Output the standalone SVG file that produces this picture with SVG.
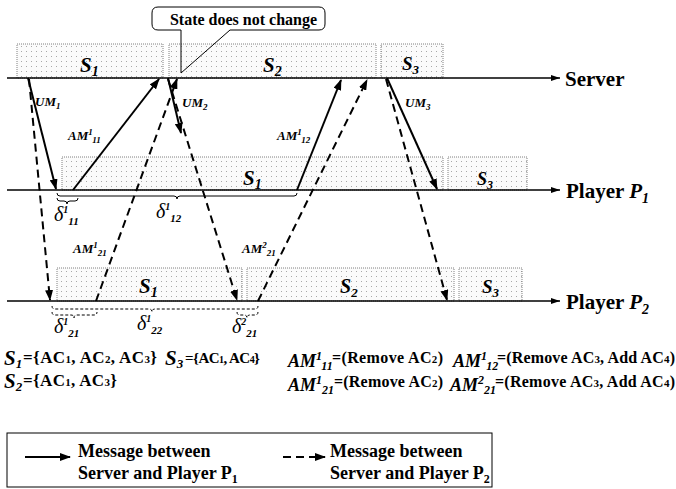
<svg xmlns="http://www.w3.org/2000/svg" width="676" height="489" viewBox="0 0 676 489">
<style>
.f{font-family:"Liberation Serif","Times New Roman",serif;font-weight:bold;fill:#000}
.it{font-style:italic}
.d{font-family:"Liberation Serif","Times New Roman",serif;font-style:italic;fill:#000}
.box{fill:url(#dots);stroke:#808080;stroke-width:1;stroke-dasharray:1 1}
.axis{stroke:#000;stroke-width:1.5;fill:none}
.sol{stroke:#000;stroke-width:2;fill:none}
.dsh{stroke:#000;stroke-width:2;fill:none;stroke-dasharray:8 5}
.br{stroke:#000;stroke-width:1;fill:none}
.brd{stroke:#000;stroke-width:1;fill:none;stroke-dasharray:3 2}
</style>
<defs>
<pattern id="dots" width="5" height="5" patternUnits="userSpaceOnUse">
<rect width="5" height="5" fill="#fbfbfb"/>
<rect x="1" y="1" width="1" height="1" fill="#a8a8a8"/>
</pattern>
<marker id="ah" viewBox="0 0 11 8" refX="10" refY="4" markerWidth="11" markerHeight="8" markerUnits="userSpaceOnUse" orient="auto">
<path d="M0,0 L11,4 L0,8 z" fill="#000"/>
</marker>
<marker id="ax" viewBox="0 0 9 6" refX="9" refY="3" markerWidth="9" markerHeight="6" markerUnits="userSpaceOnUse" orient="auto">
<path d="M0,0 L9,3 L0,6 z" fill="#000"/>
</marker>
</defs>

<g id="server">
<rect class="box" x="17" y="44" width="146" height="34"/>
<rect class="box" x="169" y="44" width="207" height="34"/>
<rect class="box" x="381" y="44" width="62" height="34"/>
<text class="f it" x="80" y="72" font-size="21">S<tspan font-size="14" dy="4">1</tspan></text>
<text class="f it" x="263" y="72" font-size="21">S<tspan font-size="14" dy="4">2</tspan></text>
<text class="f it" x="402" y="70" font-size="19">S<tspan font-size="13" dy="4">3</tspan></text>
<line class="axis" x1="7" y1="78" x2="560" y2="78" marker-end="url(#ax)"/>
<text class="f" x="565" y="86" font-size="21">Server</text>
</g>

<g id="player1">
<rect class="box" x="62" y="157" width="381" height="33"/>
<rect class="box" x="448" y="157" width="79" height="33"/>
<text class="f it" x="243" y="185" font-size="21">S<tspan font-size="14" dy="4">1</tspan></text>
<text class="f it" x="477" y="185" font-size="18">S<tspan font-size="12" dy="4">3</tspan></text>
<line class="axis" x1="7" y1="190" x2="560" y2="190" marker-end="url(#ax)"/>
<text class="f" x="566" y="198" font-size="21">Player <tspan class="it">P</tspan><tspan class="it" font-size="14" dy="5">1</tspan></text>
</g>

<g id="player2">
<rect class="box" x="57" y="268" width="185" height="33"/>
<rect class="box" x="247" y="268" width="207" height="33"/>
<rect class="box" x="459" y="268" width="63" height="33"/>
<text class="f it" x="139" y="293" font-size="21">S<tspan font-size="14" dy="4">1</tspan></text>
<text class="f it" x="340" y="293" font-size="20">S<tspan font-size="13" dy="4">2</tspan></text>
<text class="f it" x="482" y="293" font-size="19">S<tspan font-size="13" dy="4">3</tspan></text>
<line class="axis" x1="7" y1="301" x2="560" y2="301" marker-end="url(#ax)"/>
<text class="f" x="566" y="309" font-size="21">Player <tspan class="it">P</tspan><tspan class="it" font-size="14" dy="5">2</tspan></text>
</g>

<g id="callout">
<path d="M181,30 H158 Q152,30 152,24 V13 Q152,7 158,7 H319 Q325,7 325,13 V24 Q325,30 319,30 H230 Z" fill="#fff" stroke="none"/>
<path d="M181,73 V30 H158 Q152,30 152,24 V13 Q152,7 158,7 H319 Q325,7 325,13 V24 Q325,30 319,30 H230 L181,73" fill="none" stroke="#000" stroke-width="1"/>
<text class="f" x="243.5" y="25" font-size="16" text-anchor="middle">State does not change</text>
</g>

<g id="connectors">
<line class="sol" x1="28" y1="78" x2="56" y2="189" marker-end="url(#ah)"/>
<line class="dsh" x1="29" y1="79" x2="50" y2="300" marker-end="url(#ah)"/>
<line class="sol" x1="73" y1="190" x2="159" y2="79" marker-end="url(#ah)"/>
<line class="dsh" x1="96" y1="301" x2="177" y2="79" marker-end="url(#ah)"/>
<line class="sol" x1="168" y1="78" x2="181" y2="133" marker-end="url(#ah)"/>
<line class="dsh" x1="168" y1="79" x2="237" y2="300" marker-end="url(#ah)"/>
<line class="sol" x1="297" y1="190" x2="341" y2="80" marker-end="url(#ah)"/>
<line class="dsh" x1="258" y1="301" x2="367" y2="80" marker-end="url(#ah)"/>
<line class="sol" x1="387" y1="78" x2="437" y2="189" marker-end="url(#ah)"/>
<line class="dsh" x1="386" y1="79" x2="447" y2="300" marker-end="url(#ah)"/>
</g>

<g id="message-labels">
<text class="f it" x="35" y="106" font-size="13">UM<tspan font-size="9" dy="3">1</tspan></text>
<text class="f it" x="182" y="107" font-size="13">UM<tspan font-size="9" dy="3">2</tspan></text>
<text class="f it" x="405" y="107" font-size="13">UM<tspan font-size="9" dy="3">3</tspan></text>
<text class="f it" x="68" y="140" font-size="13">AM<tspan font-size="9" dy="-5">1</tspan><tspan font-size="9" dy="8">11</tspan></text>
<text class="f it" x="277" y="140" font-size="13">AM<tspan font-size="9" dy="-5">1</tspan><tspan font-size="9" dy="8">12</tspan></text>
<text class="f it" x="73" y="253" font-size="13">AM<tspan font-size="9" dy="-5">1</tspan><tspan font-size="9" dy="8">21</tspan></text>
<text class="f it" x="242" y="253" font-size="13">AM<tspan font-size="9" dy="-5">2</tspan><tspan font-size="9" dy="8">21</tspan></text>
</g>

<g id="delays">
<path class="br" d="M57,193 Q57,196 60,196 L174,196 Q177,196 177,199 Q177,196 180,196 L294,196 Q297,196 297,193"/>
<path class="br" d="M57,198 Q57,201 60,201 L64,201 Q67,201 67,204 Q67,201 70,201 L75,201 Q78,201 78,198"/>
<text class="d" x="54" y="221" font-size="20">δ<tspan class="f it" font-size="10" dy="-8">1</tspan><tspan class="f it" font-size="11" dy="12">11</tspan></text>
<text class="d" x="156" y="218" font-size="20">δ<tspan class="f it" font-size="10" dy="-8">1</tspan><tspan class="f it" font-size="11" dy="12">12</tspan></text>
<path class="brd" d="M52,306 Q52,309 55,309 L149,309 Q152,309 152,312 Q152,309 155,309 L255,309 Q258,309 258,306"/>
<path class="brd" d="M52,312 Q52,315 55,315 L71,315 Q74,315 74,318 Q74,315 77,315 L94,315 Q97,315 97,312"/>
<path class="brd" d="M237,312 Q237,315 240,315 L244,315 Q247,315 247,318 Q247,315 250,315 L255,315 Q258,315 258,312"/>
<text class="d" x="54" y="333" font-size="20">δ<tspan class="f it" font-size="10" dy="-8">1</tspan><tspan class="f it" font-size="11" dy="12">21</tspan></text>
<text class="d" x="137" y="330" font-size="20">δ<tspan class="f it" font-size="10" dy="-8">1</tspan><tspan class="f it" font-size="11" dy="12">22</tspan></text>
<text class="d" x="232" y="333" font-size="20">δ<tspan class="f it" font-size="10" dy="-8">2</tspan><tspan class="f it" font-size="11" dy="12">21</tspan></text>
</g>

<g id="definitions">
<text class="f it" x="4" y="365" font-size="21">S<tspan font-size="13" dy="3">1</tspan></text>
<text class="f" x="23" y="363" font-size="17" textLength="134" lengthAdjust="spacing">={AC<tspan font-size="11">1</tspan>, AC<tspan font-size="11">2</tspan>, AC<tspan font-size="11">3</tspan>}</text>
<text class="f it" x="165" y="365" font-size="21">S<tspan font-size="13" dy="3">3</tspan></text>
<text class="f" x="185" y="363" font-size="15" textLength="75" lengthAdjust="spacing">={AC<tspan font-size="10">1</tspan>, AC<tspan font-size="10">4</tspan>}</text>
<text class="f it" x="4" y="388" font-size="21">S<tspan font-size="13" dy="3">2</tspan></text>
<text class="f" x="23" y="386" font-size="17" textLength="94" lengthAdjust="spacing">={AC<tspan font-size="11">1</tspan>, AC<tspan font-size="11">3</tspan>}</text>

<text class="f it" x="288" y="367" font-size="18">AM<tspan font-size="12" dy="-7">1</tspan><tspan font-size="12" dy="10">11</tspan></text>
<text class="f" x="332" y="363" font-size="16" textLength="111" lengthAdjust="spacing">=(Remove AC<tspan font-size="11">2</tspan>)</text>
<text class="f it" x="453" y="367" font-size="18">AM<tspan font-size="12" dy="-7">1</tspan><tspan font-size="12" dy="10">12</tspan></text>
<text class="f" x="497" y="363" font-size="16" textLength="178" lengthAdjust="spacing">=(Remove AC<tspan font-size="11">3</tspan>, Add AC<tspan font-size="11">4</tspan>)</text>

<text class="f it" x="288" y="391" font-size="18">AM<tspan font-size="12" dy="-7">1</tspan><tspan font-size="12" dy="10">21</tspan></text>
<text class="f" x="334" y="387" font-size="16" textLength="109" lengthAdjust="spacing">=(Remove AC<tspan font-size="11">2</tspan>)</text>
<text class="f it" x="450" y="391" font-size="18">AM<tspan font-size="12" dy="-7">2</tspan><tspan font-size="12" dy="10">21</tspan></text>
<text class="f" x="495" y="387" font-size="16" textLength="180" lengthAdjust="spacing">=(Remove AC<tspan font-size="11">3</tspan>, Add AC<tspan font-size="11">4</tspan>)</text>
</g>

<g id="legend">
<rect x="7" y="433" width="485" height="54" fill="none" stroke="#000" stroke-width="1"/>
<line class="sol" x1="25" y1="457" x2="70" y2="457" marker-end="url(#ah)"/>
<text class="f" x="78" y="457" font-size="18">Message between</text>
<text class="f" x="78" y="479" font-size="18">Server and Player P<tspan font-size="12" dy="4">1</tspan></text>
<line class="dsh" x1="283" y1="457" x2="325" y2="457" marker-end="url(#ah)"/>
<text class="f" x="330" y="457" font-size="18">Message between</text>
<text class="f" x="330" y="479" font-size="18">Server and Player P<tspan font-size="12" dy="4">2</tspan></text>
</g>
</svg>
